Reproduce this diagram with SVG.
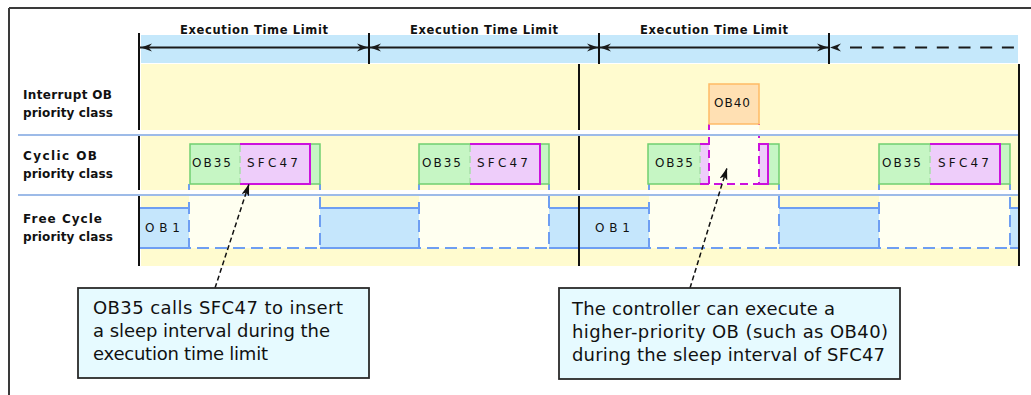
<svg xmlns="http://www.w3.org/2000/svg" width="1031" height="395" viewBox="0 0 1031 395">
<defs>
<style>
.lbl{font-family:"DejaVu Sans",sans-serif;font-weight:bold;font-size:12px;fill:#111}
.etl{font-family:"DejaVu Sans",sans-serif;font-weight:bold;font-size:11.5px;fill:#111}
.blk{font-family:"DejaVu Sans",sans-serif;font-size:12px;fill:#111}
.call{font-family:"DejaVu Sans",sans-serif;font-size:18px;fill:#111}
.ob1{fill:#c5e6fc}
.bl{stroke:#6e9ef2;stroke-width:2;fill:none}
.bd{stroke:#6e9ef2;stroke-width:2;fill:none;stroke-dasharray:12 6}
.pale{fill:#fffff0}
.grn{fill:#c6f6c4;stroke:#70cf70;stroke-width:1.5}
.magf{fill:#eecdfa}
.mag{stroke:#cc11dd;stroke-width:2;fill:none}
.magd{stroke:#cc11dd;stroke-width:2;fill:none;stroke-dasharray:8 5}
.div{stroke:#a8e0a8;stroke-width:1.5;stroke-dasharray:7 4}
.vl{stroke:#111;stroke-width:2}
.sepw{fill:#fff}
.sepl{stroke:#9dbbe8;stroke-width:2}
.lead{stroke:#111;stroke-width:1.5;stroke-dasharray:5 3;fill:none}
.box{fill:#e6faff;stroke:#2a2a2a;stroke-width:1.8}
.ob40{fill:#ffe0b3;stroke:#ffbb66;stroke-width:1.5}
</style>
<path id="ah" d="M0,0 L-11,-4 L-7.5,0 L-11,4 Z" fill="#1a1a1a"/>
<marker id="arr" viewBox="0 0 12 8" refX="12" refY="4" markerWidth="12" markerHeight="8" markerUnits="userSpaceOnUse" orient="auto">
<path d="M0,0 L12,4 L0,8 L3,4 Z" fill="#111"/>
</marker>
</defs>

<rect width="1031" height="395" fill="#fff"/>
<g id="frame">
<path d="M9,8H1031M9,8V395" stroke="#3a3a3a" stroke-width="2" fill="none"/>
</g>

<g id="background">
<rect x="141" y="35" width="877" height="28" fill="#c5e8fb"/>
<rect x="141" y="64" width="878" height="202" fill="#fffbcf"/>
</g>

<g id="free-row">
<rect class="ob1" x="140" y="208" width="49" height="40"/>
<rect class="ob1" x="320" y="208" width="99" height="40"/>
<rect class="ob1" x="549" y="208" width="100" height="40"/>
<rect class="ob1" x="779" y="208" width="100" height="40"/>
<rect class="ob1" x="1010" y="208" width="9" height="40"/>
<rect class="pale" x="189" y="196" width="131" height="52"/>
<rect class="pale" x="419" y="196" width="130" height="52"/>
<rect class="pale" x="649" y="196" width="130" height="52"/>
<rect class="pale" x="879" y="196" width="131" height="52"/>
<path class="bl" d="M140,208H189M140,248H189M320,208H419M320,248H419M549,208H649M549,248H649M779,208H879M779,248H879M1010,208H1019M1010,248H1019"/>
<path class="bd" d="M189,184V248H320V184"/>
<path class="bd" d="M419,184V248H549V184"/>
<path class="bd" d="M649,184V248H779V184"/>
<path class="bd" d="M879,184V248H1010V184"/>
</g>

<g id="cyclic-1">
<rect class="grn" x="190" y="144" width="130" height="40"/>
<rect class="magf" x="240" y="144" width="70" height="40"/>
<path class="mag" d="M240,144H310V184H240"/>
<line class="div" x1="240" y1="145" x2="240" y2="183"/>
<text class="blk" x="192" y="167" textLength="39">OB35</text>
<text class="blk" x="247" y="167" textLength="51">SFC47</text>
</g>
<g id="cyclic-2">
<rect class="grn" x="419" y="144" width="130" height="40"/>
<rect class="magf" x="470" y="144" width="70" height="40"/>
<path class="mag" d="M470,144H540V184H470"/>
<line class="div" x1="470" y1="145" x2="470" y2="183"/>
<text class="blk" x="422" y="167" textLength="39">OB35</text>
<text class="blk" x="477" y="167" textLength="51">SFC47</text>
</g>
<g id="cyclic-3">
<rect class="grn" x="648" y="144" width="131" height="40"/>
<rect class="magf" x="700" y="144" width="68" height="40"/>
<rect class="pale" x="709" y="124" width="50" height="61.5"/>
<path class="mag" d="M700,144H709M700,184H709M759,144H768V184H759"/>
<path class="magd" d="M709,124V184H759V124"/>
<line class="div" x1="700" y1="145" x2="700" y2="183"/>
<text class="blk" x="655" y="167" textLength="38">OB35</text>
</g>
<g id="cyclic-4">
<rect class="grn" x="879" y="144" width="131" height="40"/>
<rect class="magf" x="930" y="144" width="70" height="40"/>
<path class="mag" d="M930,144H1000V184H930"/>
<line class="div" x1="930" y1="145" x2="930" y2="183"/>
<text class="blk" x="882" y="167" textLength="39">OB35</text>
<text class="blk" x="938" y="167" textLength="51">SFC47</text>
</g>

<g id="ob40">
<rect class="ob40" x="709" y="84" width="50" height="40"/>
<text class="blk" x="714" y="107" textLength="36">OB40</text>
</g>

<g id="ob1-labels">
<text class="blk" x="145" y="232" textLength="35">OB1</text>
<text class="blk" x="595" y="232" textLength="35">OB1</text>
</g>

<g id="cycle-lines">
<line class="vl" x1="139" y1="33" x2="139" y2="266"/>
<line class="vl" x1="579" y1="64" x2="579" y2="266"/>
</g>

<g id="separators">
<rect class="sepw" x="18" y="130" width="1001" height="4"/>
<line class="sepl" x1="18" y1="135" x2="1018" y2="135"/>
<rect class="sepw" x="18" y="190" width="1001" height="4"/>
<line class="sepl" x1="18" y1="195" x2="1018" y2="195"/>
</g>
<line class="vl" x1="1019" y1="64" x2="1019" y2="266"/>

<g id="timeline">
<line x1="139" y1="47.5" x2="829" y2="47.5" stroke="#1a1a1a" stroke-width="2"/>
<line x1="850" y1="47.5" x2="1016" y2="47.5" stroke="#1a1a1a" stroke-width="2" stroke-dasharray="12 9.7"/>
<line class="vl" x1="369" y1="33" x2="369" y2="64"/>
<line class="vl" x1="599" y1="33" x2="599" y2="64"/>
<line class="vl" x1="829" y1="33" x2="829" y2="64"/>
<use href="#ah" transform="translate(141,47.5) scale(-1,1)"/>
<use href="#ah" transform="translate(368,47.5)"/>
<use href="#ah" transform="translate(370,47.5) scale(-1,1)"/>
<use href="#ah" transform="translate(598,47.5)"/>
<use href="#ah" transform="translate(600,47.5) scale(-1,1)"/>
<use href="#ah" transform="translate(828,47.5)"/>
<use href="#ah" transform="translate(830,47.5) scale(-1,1)"/>
<text class="etl" x="180" y="34" textLength="148">Execution Time Limit</text>
<text class="etl" x="410" y="34" textLength="148">Execution Time Limit</text>
<text class="etl" x="640" y="34" textLength="148">Execution Time Limit</text>
</g>

<g id="lane-labels">
<text class="lbl" x="23" y="99" textLength="89">Interrupt OB</text>
<text class="lbl" x="23" y="117" textLength="90">priority class</text>
<text class="lbl" x="23" y="160" textLength="74">Cyclic OB</text>
<text class="lbl" x="23" y="178" textLength="90">priority class</text>
<text class="lbl" x="23" y="223" textLength="79">Free Cycle</text>
<text class="lbl" x="23" y="241" textLength="90">priority class</text>
</g>

<g id="connectors">
<path class="lead" d="M215,288L249,184" marker-end="url(#arr)"/>
<path class="lead" d="M690,288L727,168" marker-end="url(#arr)"/>
</g>

<g id="callout-1">
<rect class="box" x="78" y="288" width="291" height="90"/>
<text class="call" x="93" y="314" textLength="250">OB35 calls SFC47 to insert</text>
<text class="call" x="93" y="337" textLength="237">a sleep interval during the</text>
<text class="call" x="93" y="360" textLength="175">execution time limit</text>
</g>
<g id="callout-2">
<rect class="box" x="559" y="288" width="341" height="91"/>
<text class="call" x="572" y="315" textLength="263">The controller can execute a</text>
<text class="call" x="572" y="338" textLength="316">higher-priority OB (such as OB40)</text>
<text class="call" x="572" y="361" textLength="313">during the sleep interval of SFC47</text>
</g>
</svg>
